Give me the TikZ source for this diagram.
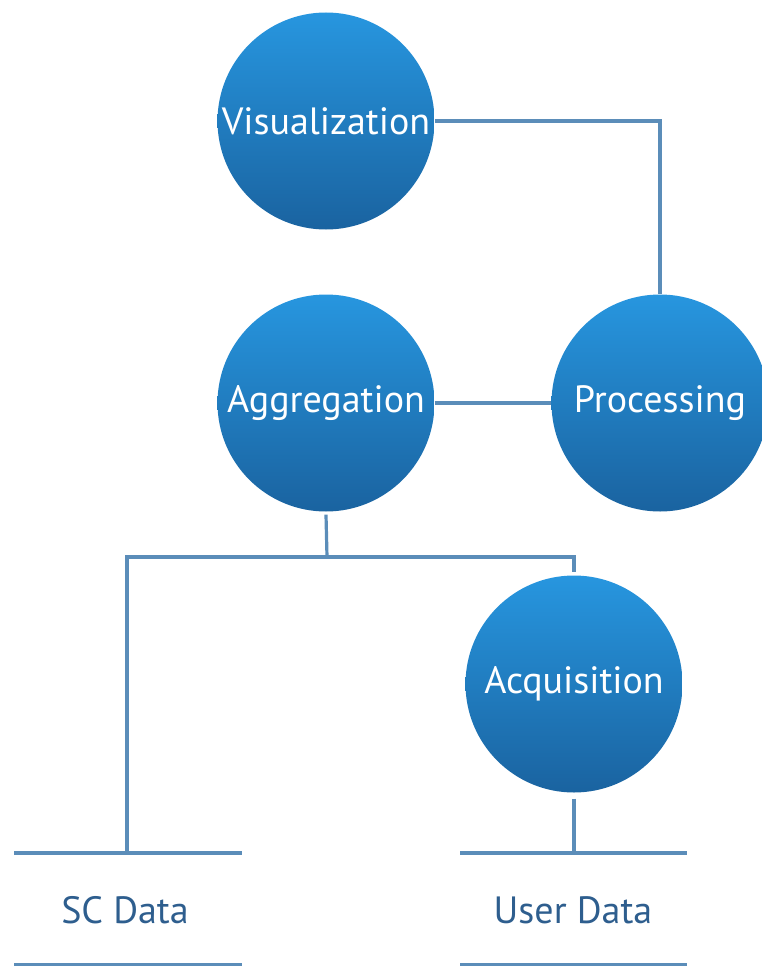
\documentclass[tikz,border=0pt]{standalone}
\usepackage{fontspec}
\setmainfont{PT Sans}
\definecolor{balltop}{HTML}{2796DF}
\definecolor{ballbot}{HTML}{1A63A0}
\definecolor{wire}{HTML}{5B8DB9}
\definecolor{storetext}{HTML}{2E5E8E}
\begin{document}
\begin{tikzpicture}[x=1pt,y=-1pt,
  ball/.style={circle, minimum size=217pt, inner sep=0pt,
    top color=balltop, bottom color=ballbot, draw=none,
    text=white, font=\fontsize{38}{44}\selectfont},
  link/.style={draw=wire, line width=3.2pt},
  storeline/.style={draw=wire, line width=4.5pt},
  storelabel/.style={text=storetext, font=\fontsize{38}{44}\selectfont}]
  \useasboundingbox (0,0) rectangle (761,966);

  % process circles
  \node[ball] (vis) at (326,121) {Visualization};
  \node[ball] (agg) at (326,403) {Aggregation};
  \node[ball] (proc) at (660,403) {Processing};
  \node[ball] (acq) at (574,684) {Acquisition};

  % data stores: label between two bars
  \node[storelabel] (sc) at (125,910) {SC Data};
  \coordinate (scTL) at (14,853);  \coordinate (scTR) at (242,853);
  \coordinate (scBL) at (14,965);  \coordinate (scBR) at (242,965);
  \coordinate (scTop) at (127,853);
  \draw[storeline] (scTL) -- (scTR);
  \draw[storeline] (scBL) -- (scBR);

  \node[storelabel] (ud) at (573,910) {User Data};
  \coordinate (udTL) at (460,853); \coordinate (udTR) at (687,853);
  \coordinate (udBL) at (460,965); \coordinate (udBR) at (687,965);
  \coordinate (udTop) at (574,853);
  \draw[storeline] (udTL) -- (udTR);
  \draw[storeline] (udBL) -- (udBR);

  % connectors
  \coordinate (split) at (327,557);
  \draw[link] (vis.east) -- (vis.east -| proc.north) -- (proc.north);
  \draw[link] (agg.east) -- (proc.west);
  \draw[link] ([yshift=-3pt]agg.south) -- (split);
  \draw[link] (split) -- (split -| scTop) -- (scTop);
  \draw[link] (split) -- (split -| acq.north) -- ([yshift=3pt]acq.north);
  \draw[link] ([yshift=-6pt]acq.south) -- (udTop);
\end{tikzpicture}
\end{document}
